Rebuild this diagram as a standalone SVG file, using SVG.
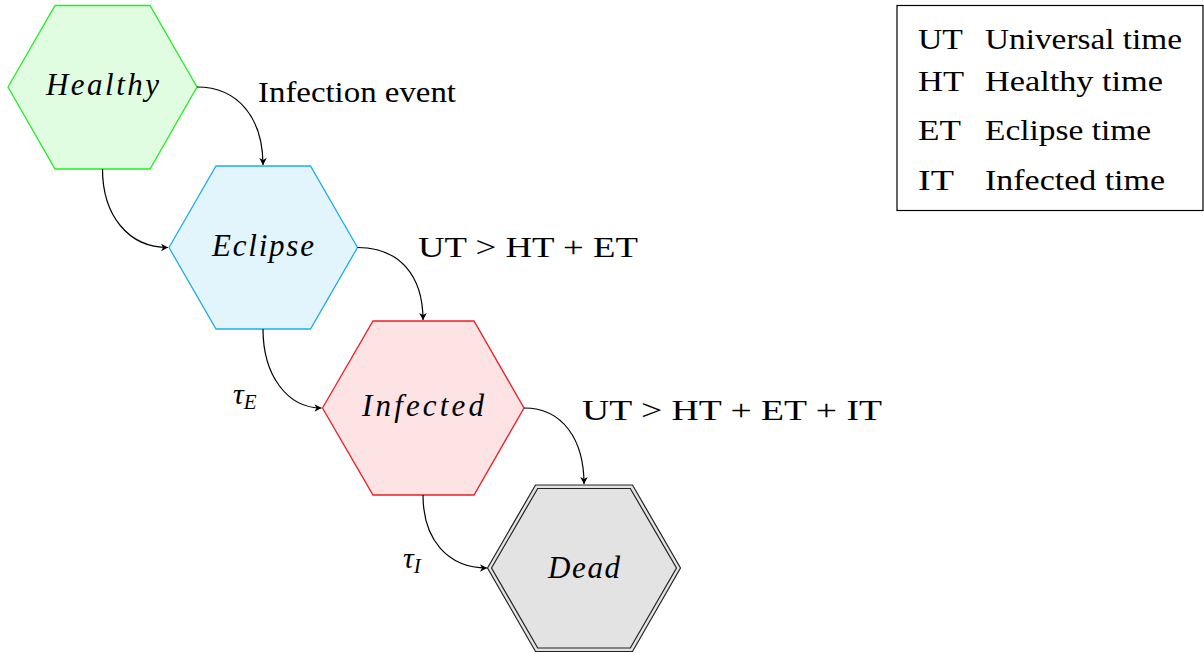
<svg xmlns="http://www.w3.org/2000/svg" width="1204" height="653" viewBox="0 0 1204 653" font-family="'Liberation Serif', 'Times New Roman', Times, Tinos, 'Noto Serif', 'DejaVu Serif', serif">
<defs>
<marker id="arr" markerWidth="10" markerHeight="10" refX="0" refY="0" viewBox="-8 -5 10 10" orient="auto" markerUnits="userSpaceOnUse">
<path d="M0,0 L-7,-3.8 L-5,0 L-7,3.8 Z" fill="#000"/>
</marker>
</defs>
<style>
text { font-family: 'Liberation Serif', 'Times New Roman', Times, Tinos, 'Noto Serif', 'DejaVu Serif', serif; fill: #000; }
.node { font-style: italic; font-size: 31px; text-anchor: middle; }
.lbl { font-size: 30px; }
.edge { fill: none; stroke: #000; stroke-width: 1.2; marker-end: url(#arr); }
</style>
<rect width="1204" height="653" fill="#fff"/>

<g id="healthy">
<polygon points="8,87 55,5.5 150,5.5 197,87 150,169 55,169" fill="#e1fde1" stroke="#22ee22" stroke-width="1.3"/>
<text class="node" x="102.5" y="95" textLength="113" lengthAdjust="spacing">Healthy</text>
</g>
<g id="eclipse">
<polygon points="169,247.5 216,166 310.5,166 357.5,247.5 310.5,329 216,329" fill="#e3f5fc" stroke="#1eaee6" stroke-width="1.3"/>
<text class="node" x="263" y="256" textLength="102" lengthAdjust="spacing">Eclipse</text>
</g>
<g id="infected">
<polygon points="322.5,408 373,321 474,321 524,408 474,495 373,495" fill="#fee3e5" stroke="#ee1c24" stroke-width="1.3"/>
<text class="node" x="423" y="416" textLength="122" lengthAdjust="spacing">Infected</text>
</g>
<g id="dead">
<polygon points="487.5,568 535.5,485 632.5,485 680.5,568 632.5,651.5 535.5,651.5" fill="#e3e3e3" stroke="#222" stroke-width="1.2"/>
<polygon points="491.5,568 537.7,488.5 630.3,488.5 676.5,568 630.3,648 537.7,648" fill="none" stroke="#222" stroke-width="1.2"/>
<text class="node" x="584" y="578" textLength="72" lengthAdjust="spacing">Dead</text>
</g>

<g id="connectors">
<path class="edge" d="M197,87 C238,87 263,118 263,165"/>
<path class="edge" d="M102.5,169 C102.5,215 128,247.5 168,247.5"/>
<path class="edge" d="M357.5,247.5 C399,247.5 423,275 423,320"/>
<path class="edge" d="M263,329 C263,375 287,408 321.5,408"/>
<path class="edge" d="M524,408 C563,408 584,440 584,484"/>
<path class="edge" d="M423,495 C423,540 448,568 487,568"/>
</g>

<g id="edge-labels">
<text class="lbl" x="258" y="101.5" textLength="198" lengthAdjust="spacingAndGlyphs">Infection event</text>
<text class="lbl" x="418" y="257" textLength="220" lengthAdjust="spacingAndGlyphs">UT &gt; HT + ET</text>
<text class="lbl" x="582" y="420" textLength="300" lengthAdjust="spacingAndGlyphs">UT &gt; HT + ET + IT</text>
<text x="233" y="404" font-size="30" font-style="italic">τ<tspan font-size="21" dy="5">E</tspan></text>
<text x="403" y="568" font-size="30" font-style="italic">τ<tspan font-size="21" dy="5">I</tspan></text>
</g>

<g id="legend">
<rect x="897" y="5.5" width="306" height="205" fill="#fff" stroke="#000" stroke-width="1.2"/>
<text class="lbl" x="918" y="48.5" textLength="45" lengthAdjust="spacingAndGlyphs">UT</text>
<text class="lbl" x="985" y="48.5" textLength="197" lengthAdjust="spacingAndGlyphs">Universal time</text>
<text class="lbl" x="918" y="90.5" textLength="46" lengthAdjust="spacingAndGlyphs">HT</text>
<text class="lbl" x="985" y="90.5" textLength="178" lengthAdjust="spacingAndGlyphs">Healthy time</text>
<text class="lbl" x="918" y="140" textLength="43" lengthAdjust="spacingAndGlyphs">ET</text>
<text class="lbl" x="985" y="140" textLength="166" lengthAdjust="spacingAndGlyphs">Eclipse time</text>
<text class="lbl" x="918" y="190" textLength="36" lengthAdjust="spacingAndGlyphs">IT</text>
<text class="lbl" x="985" y="190" textLength="180" lengthAdjust="spacingAndGlyphs">Infected time</text>
</g>
</svg>
